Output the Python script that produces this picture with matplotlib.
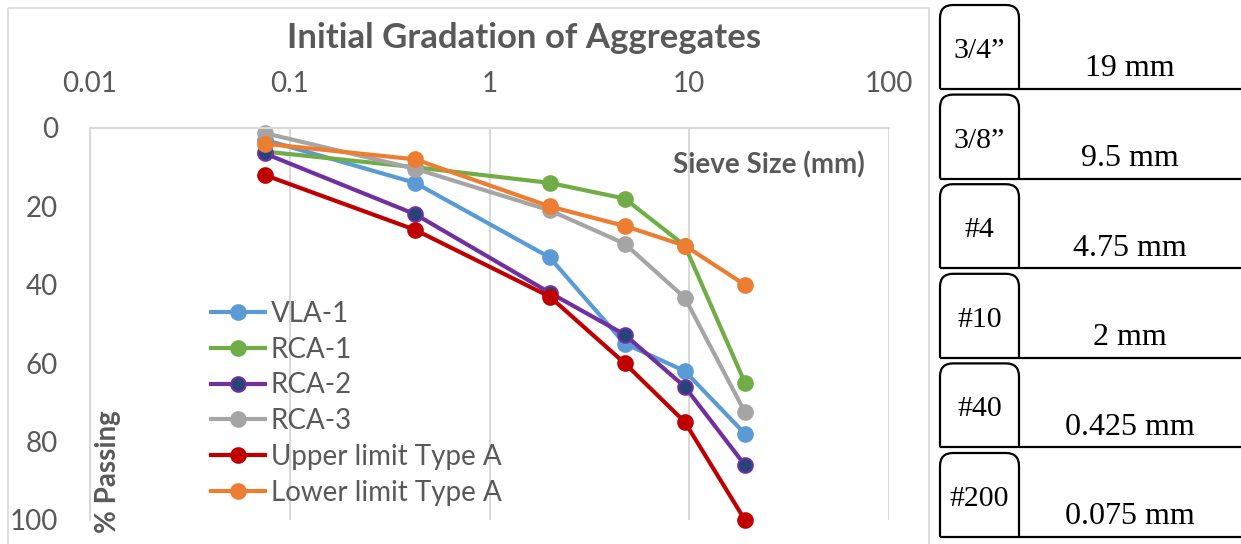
import matplotlib
matplotlib.use("Agg")
import matplotlib.pyplot as plt
from matplotlib.path import Path
from matplotlib.patches import PathPatch, Rectangle
from matplotlib.ticker import FixedLocator, FixedFormatter, NullLocator

# ---------------- data ----------------
sieve_mm = [0.075, 0.425, 2, 4.75, 9.5, 19]
vla_1 = [3, 14, 33, 55, 62, 78]
rca_1 = [6, 10, 14, 18, 30, 65]
rca_2 = [6.5, 22, 42, 52.7, 66, 86]
rca_3 = [1.3, 10.4, 21, 29.5, 43.3, 72.5]
upper_limit = [12, 26, 43, 60, 75, 100]
lower_limit = [4, 8, 20, 25, 30, 40]
series_names = ["VLA-1", "RCA-1", "RCA-2", "RCA-3",
                "Upper limit Type A", "Lower limit Type A"]

x_ticks = [0.01, 0.1, 1, 10, 100]
x_tick_labels = ["0.01", "0.1", "1", "10", "100"]
y_ticks = [0, 20, 40, 60, 80, 100]

table_sieves = ["3/4\u201d", "3/8\u201d", "#4", "#10", "#40", "#200"]
table_mm = ["19 mm", "9.5 mm", "4.75 mm", "2 mm", "0.425 mm", "0.075 mm"]

title = "Initial Gradation of Aggregates"
x_label = "Sieve Size (mm)"
y_label = "% Passing"

# ---------------- layout helpers ----------------
W, H = 1241, 544
def fx(px):
    return px / W
def fy(py):
    return 1 - py / H

FONT = ["Lato", "DejaVu Sans"]
GRAY_TXT = "#595959"
GRID = "#D9D9D9"

fig = plt.figure(figsize=(W / 100, H / 100), dpi=100)
fig.patch.set_facecolor("white")

# chart area border
border = fig.add_axes([0, 0, 1, 1], zorder=0)
border.set_xlim(0, W)
border.set_ylim(H, 0)
border.axis("off")
border.add_patch(Rectangle((7.5, 8), 921, 560, fill=False, ec="#D9D9D9", lw=1.2))

# main plot
L, R, T, B = 90, 889, 128, 520
ax = fig.add_axes([fx(L), fy(B), fx(R) - fx(L), (B - T) / H], zorder=2)
ax.set_facecolor("none")
ax.set_xscale("log")
ax.set_xlim(0.01, 100)
ax.set_ylim(100, 0)

ax.xaxis.set_major_locator(FixedLocator(x_ticks))
ax.xaxis.set_major_formatter(FixedFormatter(x_tick_labels))
ax.xaxis.set_minor_locator(NullLocator())
ax.xaxis.tick_top()
ax.set_yticks(y_ticks)
ax.tick_params(axis="x", length=0, pad=22, labelsize=20, labelcolor=GRAY_TXT)
ax.tick_params(axis="y", length=0, pad=23, labelsize=20, labelcolor=GRAY_TXT)
for lab in ax.get_xticklabels() + ax.get_yticklabels():
    lab.set_family(FONT)

ax.grid(axis="x", color=GRID, lw=1.5)
ax.set_axisbelow(True)
for s in ["bottom", "right"]:
    ax.spines[s].set_visible(False)
for s in ["top", "left"]:
    ax.spines[s].set_color(GRID)
    ax.spines[s].set_linewidth(1.5)

styles = [
    dict(color="#5B9BD5", mfc="#5B9BD5", mec="#5B9BD5"),
    dict(color="#70AD47", mfc="#70AD47", mec="#70AD47"),
    dict(color="#7030A0", mfc="#264478", mec="#7030A0"),
    dict(color="#A5A5A5", mfc="#A5A5A5", mec="#A5A5A5"),
    dict(color="#C00000", mfc="#C00000", mec="#C00000"),
    dict(color="#ED7D31", mfc="#ED7D31", mec="#ED7D31"),
]
all_series = [vla_1, rca_1, rca_2, rca_3, upper_limit, lower_limit]
handles = []
for name, vals, st in zip(series_names, all_series, styles):
    h, = ax.plot(sieve_mm, vals, marker="o", ms=10.5, lw=3.0, mew=1.5,
                 label=name, clip_on=False, **st)
    handles.append(h)

leg = ax.legend(handles=handles, loc="upper left",
                bbox_to_anchor=(fx(211), fy(301)), bbox_transform=fig.transFigure,
                frameon=False, prop=dict(family=FONT, size=20),
                handlelength=1.95, handletextpad=0.2, labelspacing=0.35,
                borderpad=0, borderaxespad=0)
for t in leg.get_texts():
    t.set_color(GRAY_TXT)

fig.text(fx(524), fy(38), title, ha="center", va="center", fontsize=25,
         fontweight="bold", color=GRAY_TXT, family=FONT)
fig.text(fx(865), fy(165), x_label, ha="right", va="center", fontsize=20,
         fontweight="bold", color=GRAY_TXT, family=FONT)
fig.text(fx(108), fy(472), y_label, ha="center", va="center", rotation=90,
         fontsize=20, fontweight="bold", color=GRAY_TXT, family=FONT)

# ---------------- right-hand table ----------------
tab = fig.add_axes([0, 0, 1, 1], zorder=3)
tab.set_xlim(0, W)
tab.set_ylim(H, 0)
tab.axis("off")
tab.patch.set_visible(False)

bx0, bx1, r = 940, 1019, 13
row_top0, row_step, row_h = 5, 89.6, 84
for i, (sv, mm) in enumerate(zip(table_sieves, table_mm)):
    top = row_top0 + i * row_step
    bot = top + row_h
    verts = [(bx0, bot), (bx0, top + r), (bx0, top), (bx0 + r, top),
             (bx1 - r, top), (bx1, top), (bx1, top + r), (bx1, bot)]
    codes = [Path.MOVETO, Path.LINETO, Path.CURVE3, Path.CURVE3,
             Path.LINETO, Path.CURVE3, Path.CURVE3, Path.LINETO]
    tab.add_patch(PathPatch(Path(verts, codes), fill=False, ec="black", lw=1.6))
    tab.plot([bx0, W], [bot, bot], color="black", lw=1.6, solid_capstyle="butt")
    tab.text((bx0 + bx1) / 2, top + 46, sv, ha="center", va="center",
             fontsize=21.5, family="Liberation Serif", color="black")
    tab.text(1130, top + 64, mm, ha="center", va="center",
             fontsize=23, family="Liberation Serif", color="black")

fig.savefig("out.png", dpi=100, facecolor="white")
